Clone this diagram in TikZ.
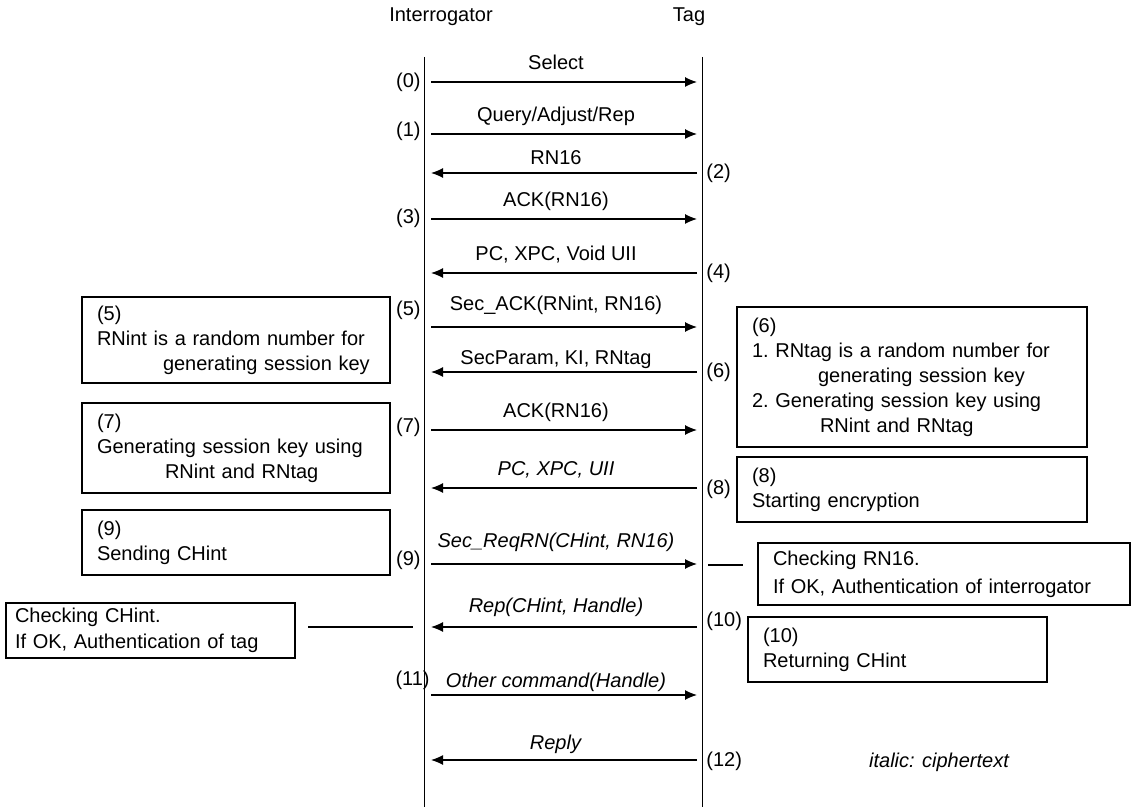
\documentclass[tikz,border=0pt]{standalone}
\usepackage{fontspec}
\setmainfont{Liberation Sans}
\usepackage{tikz}
\usetikzlibrary{arrows.meta, positioning, calc}
\tikzset{
  msg/.style={-{Latex[length=6pt,width=5pt]}, line width=0.6pt},
  lifeline/.style={line width=0.5pt},
  tie/.style={line width=1pt},
  note/.style={rectangle, draw, line width=1pt, align=left,
    inner xsep=7.5pt, inner ysep=0pt,
    font=\fontsize{10}{12.5}\selectfont\frenchspacing},
  steplabel/.style={font=\fontsize{10}{12}\selectfont, inner sep=1pt},
  msglabel/.style={midway, above=0.5pt, xshift=-4pt, text height=7.5pt,
    text depth=2pt, font=\fontsize{10}{12}\selectfont},
  actor/.style={font=\fontsize{10}{12}\selectfont}
}

\begin{document}
\begin{tikzpicture}[x=0.5pt, y=-0.5pt]
  \useasboundingbox (0,0) rectangle (1134,807);

  % Actors and lifelines
  \node[actor] (interrogator) at (441,17) {Interrogator};
  \node[actor] (tag) at (689,17) {Tag};
  \coordinate (itop) at (424,57);
  \coordinate (ibot) at (424,807);
  \coordinate (ttop) at (702,57);
  \coordinate (tbot) at (702,807);
  \draw[lifeline] (itop) -- (ibot);
  \draw[lifeline] (ttop) -- (tbot);

  % Message end points
  \foreach \k/\y in {0/82,1/134,2/173,3/219,4/273,5/327,6/372,7/430,8/488,9/564,10/627,11/695,12/760}{
    \coordinate (i\k) at (431,\y);
    \coordinate (t\k) at (697,\y);
  }

  % Messages
  \draw[msg] (i0) -- node[msglabel] {Select} (t0);
  \draw[msg] (i1) -- node[msglabel] {Query/Adjust/Rep} (t1);
  \draw[msg] (t2) -- node[msglabel, yshift=-2pt] {RN16} (i2);
  \draw[msg] (i3) -- node[msglabel] {ACK(RN16)} (t3);
  \draw[msg] (t4) -- node[msglabel] {PC, XPC, Void UII} (i4);
  \draw[msg] (i5) -- node[msglabel, yshift=2pt] {Sec\_ACK(RNint, RN16)} (t5);
  \draw[msg] (t6) -- node[msglabel, yshift=-2.5pt] {SecParam, KI, RNtag} (i6);
  \draw[msg] (i7) -- node[msglabel] {ACK(RN16)} (t7);
  \draw[msg] (t8) -- node[msglabel] {\textit{PC, XPC, UII}} (i8);
  \draw[msg] (i9) -- node[msglabel, yshift=2pt] {\textit{Sec\_ReqRN(CHint, RN16)}} (t9);
  \draw[msg] (t10) -- node[msglabel, yshift=1pt] {\textit{Rep(CHint, Handle)}} (i10);
  \draw[msg] (i11) -- node[msglabel, yshift=-2.5pt] {\textit{Other command(Handle)}} (t11);
  \draw[msg] (t12) -- node[msglabel, yshift=-1pt] {\textit{Reply}} (i12);

  % Step numbers
  \foreach \k/\y in {0/82,1/131,3/218,5/310,7/427,9/560}
    \node[steplabel, anchor=east] (n\k) at (423,\y) {(\k)};
  \node[steplabel, anchor=east] (n11) at (432,680) {(11)};
  \foreach \k/\y in {2/173,4/273,6/372,8/489,10/621,12/761}
    \node[steplabel, anchor=west] (n\k) at (704,\y) {(\k)};

  % Interrogator side notes
  \node[note, text width=139pt, minimum height=43pt] (box5) at (236,340)
    {(5)\\RNint is a random number for\\\hspace*{33pt}generating session key};
  \node[note, text width=139pt, minimum height=45pt] (box7) at (236,448)
    {(7)\\Generating session key using\\\hspace*{34pt}RNint and RNtag};
  \node[note, text width=139pt, minimum height=32.5pt] (box9) at (236,542.5)
    {(9)\\Sending CHint};
  \node[note, inner xsep=4.5pt, text width=135.5pt, minimum height=27.5pt] (chkch) at (150.5,630.5)
    {Checking CHint.\\[0.5pt]If OK, Authentication of tag};

  % Tag side notes
  \node[note, text width=160pt, minimum height=70pt] (box6) at (912,377)
    {(6)\\1. RNtag is a random number for\\\hspace*{33pt}generating session key\\2. Generating session key using\\\hspace*{34pt}RNint and RNtag};
  \node[note, text width=160pt, minimum height=32.5pt] (box8) at (912,489.5)
    {(8)\\Starting encryption};
  \node[note, text width=171pt, minimum height=31pt] (chkrn) at (944,574)
    {Checking RN16.\\[1.5pt]If OK, Authentication of interrogator};
  \node[note, text width=134.5pt, minimum height=32.5pt] (box10) at (897.5,649.5)
    {(10)\\Returning CHint};

  % Ties to the checking notes
  \coordinate (ra) at (708,565);
  \coordinate (rb) at (743,565);
  \draw[tie] (ra) -- (rb);
  \coordinate (la) at (308,627);
  \coordinate (lb) at (413,627);
  \draw[tie] (la) -- (lb);

  % Legend
  \node[steplabel, font=\fontsize{10}{12}\selectfont\itshape] (legend) at (939,762) {italic: ciphertext};
\end{tikzpicture}
\end{document}
